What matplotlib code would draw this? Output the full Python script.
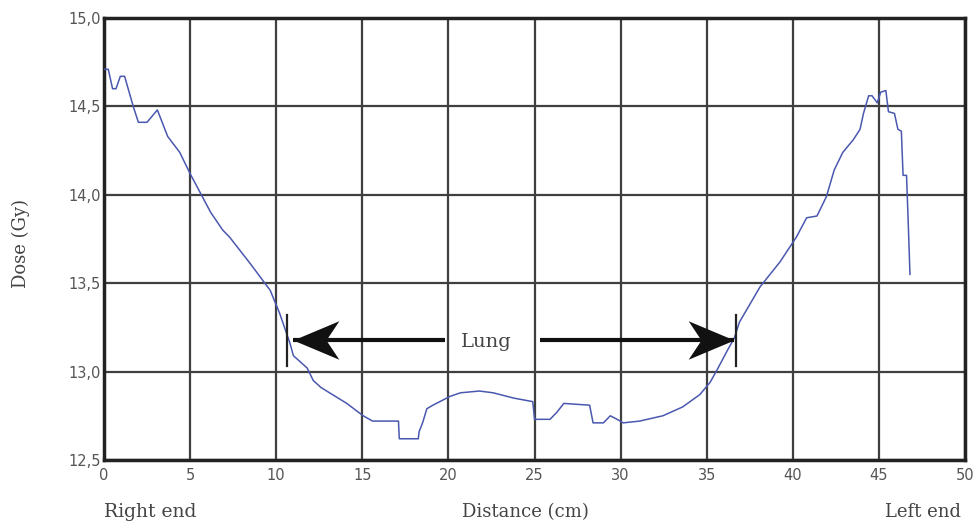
import matplotlib
matplotlib.use("Agg")
import matplotlib.pyplot as plt
from matplotlib.path import Path

distance_cm = [0, 0.25, 0.5, 0.7, 0.95, 1.2, 1.7, 2.0, 2.5, 3.1, 3.7, 4.4, 5.0, 5.6, 6.2,
               6.9, 7.3, 8.5, 9.65, 10.2, 10.8, 11.0, 11.8, 12.15, 12.6, 13.1, 14.1, 15.05,
               15.6, 17.1, 17.15, 18.25, 18.3, 18.5, 18.75, 19.1, 20.1, 20.7, 21.8, 22.6,
               23.8, 24.9, 25.0, 25.9, 26.3, 26.7, 28.2, 28.4, 29.0, 29.4, 29.8, 30.15,
               31.1, 32.45, 33.6, 34.6, 35.2, 35.6, 36.2, 36.6, 36.9, 38.1, 39.25, 40.2,
               40.8, 41.4, 41.95, 42.4, 42.9, 43.5, 43.9, 44.1, 44.4, 44.6, 44.9, 45.1,
               45.4, 45.55, 45.9, 46.1, 46.3, 46.4, 46.6, 46.7, 46.8]
dose_gy = [14.71, 14.71, 14.60, 14.60, 14.67, 14.67, 14.50, 14.41, 14.41, 14.48, 14.33,
           14.24, 14.12, 14.01, 13.90, 13.80, 13.76, 13.61, 13.46, 13.33, 13.16, 13.09,
           13.02, 12.95, 12.91, 12.88, 12.82, 12.75, 12.72, 12.72, 12.62, 12.62, 12.66,
           12.71, 12.79, 12.81, 12.86, 12.88, 12.89, 12.88, 12.85, 12.83, 12.73, 12.73,
           12.77, 12.82, 12.81, 12.71, 12.71, 12.75, 12.73, 12.71, 12.72, 12.75, 12.80,
           12.87, 12.94, 13.01, 13.12, 13.19, 13.28, 13.48, 13.62, 13.76, 13.87, 13.88,
           13.99, 14.14, 14.24, 14.31, 14.37, 14.46, 14.56, 14.56, 14.52, 14.58, 14.59,
           14.47, 14.46, 14.37, 14.36, 14.11, 14.11, 13.84, 13.55]

x_ticks = [0, 5, 10, 15, 20, 25, 30, 35, 40, 45, 50]
y_ticks = [12.5, 13.0, 13.5, 14.0, 14.5, 15.0]
y_tick_labels = ["12,5", "13,0", "13,5", "14,0", "14,5", "15,0"]

lung_bounds = [10.65, 36.7]
lung_marker_y = [13.03, 13.32]
arrow_y = 13.18
arrow_left = [19.8, 10.95]   # tail, tip
arrow_right = [25.3, 36.6]   # tail, tip
lung_label_pos = [22.2, 13.17]

fig = plt.figure(figsize=(9.77, 5.26), dpi=100)
ax = fig.add_axes([0.1064, 0.1255, 0.8814, 0.8403])

ax.set_xlim(0, 50)
ax.set_ylim(12.5, 15.0)
ax.set_xticks(x_ticks)
ax.set_yticks(y_ticks)
ax.set_xticklabels([str(t) for t in x_ticks], fontsize=10.5, color="#555555",
                   family="DejaVu Sans")
ax.set_yticklabels(y_tick_labels, fontsize=10.5, color="#555555", family="DejaVu Sans")
ax.tick_params(axis="both", length=0)
ax.tick_params(axis="x", pad=6)
ax.tick_params(axis="y", pad=2)

ax.grid(True, color="#3f3f3f", linewidth=1.6)
ax.set_axisbelow(True)
for s in ax.spines.values():
    s.set_linewidth(2.5)
    s.set_color("#222222")

ax.plot(distance_cm, dose_gy, color="#4a58b0", linewidth=1.1, zorder=3)

# Lung boundary markers
for xb in lung_bounds:
    ax.plot([xb, xb], lung_marker_y, color="#222222", linewidth=1.6, zorder=4)

# swept-back arrowhead markers (tip at origin)
head_right = Path([(0, 0), (-1.0, 0.42), (-0.72, 0), (-1.0, -0.42), (0, 0)],
                  [Path.MOVETO, Path.LINETO, Path.LINETO, Path.LINETO, Path.CLOSEPOLY])
head_left = Path([(0, 0), (1.0, 0.42), (0.72, 0), (1.0, -0.42), (0, 0)],
                 [Path.MOVETO, Path.LINETO, Path.LINETO, Path.LINETO, Path.CLOSEPOLY])

ax.plot(arrow_left, [arrow_y, arrow_y], color="#111111", linewidth=3,
        solid_capstyle="butt", zorder=5)
ax.plot(arrow_right, [arrow_y, arrow_y], color="#111111", linewidth=3,
        solid_capstyle="butt", zorder=5)
ax.plot([arrow_left[1]], [arrow_y], marker=head_left, markersize=66, color="#111111",
        markeredgewidth=0, linestyle="none", zorder=6)
ax.plot([arrow_right[1]], [arrow_y], marker=head_right, markersize=66, color="#111111",
        markeredgewidth=0, linestyle="none", zorder=6)

ax.text(lung_label_pos[0], lung_label_pos[1], "Lung", fontsize=14, family="DejaVu Serif",
        color="#444444", ha="center", va="center", zorder=7,
        bbox=dict(facecolor="white", edgecolor="none", pad=1))

serif = "DejaVu Serif"
ax.text(0.0, -0.118, "Right end", transform=ax.transAxes, fontsize=13.5, family=serif,
        color="#444444", ha="left", va="center")
ax.text(0.489, -0.118, "Distance (cm)", transform=ax.transAxes, fontsize=13, family=serif,
        color="#444444", ha="center", va="center")
ax.text(0.995, -0.118, "Left end", transform=ax.transAxes, fontsize=13, family=serif,
        color="#444444", ha="right", va="center")
ax.text(-0.097, 0.49, "Dose (Gy)", transform=ax.transAxes, fontsize=13, family=serif,
        color="#444444", ha="center", va="center", rotation=90)

fig.savefig("out.png", dpi=100, facecolor="white")
